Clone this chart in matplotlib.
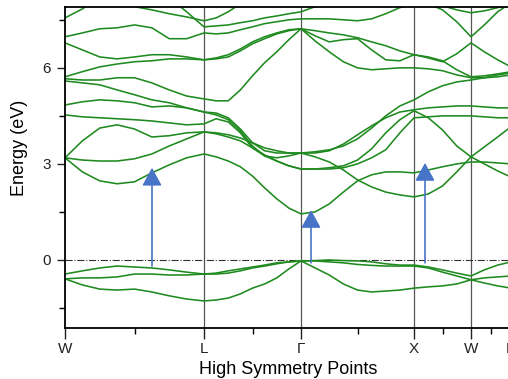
import numpy as np
import matplotlib
matplotlib.use("Agg")
import matplotlib.pyplot as plt
from matplotlib.ticker import MultipleLocator, FixedLocator

plt.rcParams['font.family'] = ['Liberation Sans', 'DejaVu Sans']

# high symmetry points along the path
sym_labels = ['W', 'L', 'Γ', 'X', 'W', 'K']
sym_k = [0.0, 1.39, 2.36, 3.49, 4.06, 4.46]
n_seg = [8, 8, 8, 4, 3]

# band energies (eV) sampled along the path (32 samples)
vb1 = [-0.44, -0.34, -0.25, -0.19, -0.22, -0.25, -0.31, -0.38, -0.44,
       -0.41, -0.34, -0.28, -0.22, -0.16, -0.09, -0.06, -0.03,
       -0.02, 0.0, -0.02, -0.03, -0.06, -0.12, -0.16, -0.16,
       -0.22, -0.31, -0.41, -0.5,
       -0.31, -0.16, -0.06]
vb2 = [-0.59, -0.56, -0.56, -0.53, -0.44, -0.44, -0.47, -0.47, -0.44,
       -0.44, -0.41, -0.34, -0.25, -0.19, -0.12, -0.06, -0.03,
       -0.03, -0.06, -0.09, -0.14, -0.17, -0.19, -0.19, -0.19,
       -0.25, -0.38, -0.5, -0.62,
       -0.56, -0.53, -0.5]
vb3 = [-0.59, -0.78, -0.91, -0.94, -0.91, -1.0, -1.12, -1.22, -1.28,
       -1.25, -1.19, -1.06, -0.88, -0.75, -0.56, -0.28, -0.03,
       -0.25, -0.47, -0.75, -0.94, -1.0, -0.97, -0.94, -0.88,
       -0.84, -0.81, -0.75, -0.62,
       -0.72, -0.81, -0.88]
cb1 = [3.19, 2.75, 2.47, 2.38, 2.44, 2.72, 2.97, 3.19, 3.31,
       3.22, 3.09, 2.91, 2.62, 2.25, 1.91, 1.62, 1.44,
       1.5, 1.75, 2.12, 2.47, 2.66, 2.75, 2.75, 2.72,
       2.81, 2.91, 3.0, 3.06,
       3.06, 3.03, 3.0]
cb2 = [3.19, 3.12, 3.09, 3.09, 3.16, 3.31, 3.56, 3.78, 4.0,
       3.97, 3.91, 3.81, 3.66, 3.5, 3.41, 3.34, 3.34,
       3.22, 3.06, 2.81, 2.5, 2.28, 2.12, 2.03, 1.97,
       2.06, 2.31, 2.75, 3.22,
       3.53, 3.84, 4.16]
cb3 = [3.19, 3.72, 4.12, 4.22, 4.09, 3.84, 3.88, 3.97, 4.0,
       3.94, 3.84, 3.72, 3.5, 3.28, 3.09, 2.94, 2.84,
       2.84, 2.84, 2.88, 3.0, 3.19, 3.44, 3.97, 4.44,
       4.47, 4.5, 4.5, 4.5,
       4.47, 4.44, 4.44]
cb4 = [4.53, 4.47, 4.44, 4.41, 4.38, 4.34, 4.28, 4.22, 4.25,
       4.41, 4.31, 3.97, 3.5, 3.25, 3.09, 2.94, 2.84,
       2.84, 2.88, 2.94, 3.12, 3.47, 3.97, 4.38, 4.66,
       4.44, 4.06, 3.56, 3.22,
       3.0, 2.78, 2.59]
cb5 = [4.84, 4.94, 5.0, 4.97, 4.91, 4.78, 4.81, 4.75, 4.62,
       4.53, 4.38, 4.03, 3.56, 3.25, 3.19, 3.25, 3.34,
       3.34, 3.41, 3.62, 3.91, 4.19, 4.44, 4.62, 4.69,
       4.75, 4.78, 4.81, 4.81,
       4.78, 4.75, 4.75]
cb6 = [5.59, 5.53, 5.47, 5.31, 5.16, 5.0, 4.91, 4.75, 4.62,
       4.59, 4.44, 4.09, 3.66, 3.41, 3.34, 3.34, 3.34,
       3.38, 3.44, 3.56, 3.78, 4.12, 4.5, 4.81, 5.0,
       5.25, 5.44, 5.56, 5.62,
       5.69, 5.78, 5.84]
cb7 = [5.66, 5.62, 5.62, 5.69, 5.69, 5.53, 5.31, 5.12, 5.03,
       4.97, 4.97, 5.31, 5.75, 6.16, 6.5, 6.88, 7.22,
       6.84, 6.5, 6.19, 6.0, 5.94, 5.97, 6.0, 6.0,
       5.97, 5.91, 5.78, 5.69,
       5.69, 5.72, 5.78]
cb8 = [5.72, 5.88, 6.03, 6.12, 6.19, 6.22, 6.28, 6.28, 6.25,
       6.31, 6.41, 6.59, 6.81, 6.97, 7.09, 7.19, 7.22,
       7.16, 7.09, 7.03, 6.94, 6.81, 6.69, 6.53, 6.41,
       6.31, 6.19, 6.44, 6.78,
       6.5, 6.25, 6.03]
cb9 = [6.78, 6.56, 6.34, 6.28, 6.34, 6.41, 6.41, 6.34, 6.25,
       6.28, 6.34, 6.53, 6.75, 6.91, 7.06, 7.16, 7.22,
       7.0, 6.81, 6.88, 6.91, 6.56, 6.25, 6.22, 6.41,
       6.34, 6.22, 5.94, 5.72,
       5.75, 5.81, 5.88]
cb10 = [6.97, 7.09, 7.22, 7.25, 7.34, 7.25, 6.91, 6.91, 7.09,
        7.06, 7.09, 7.19, 7.28, 7.38, 7.44, 7.5, 7.53,
        7.53, 7.53, 7.5, 7.47, 7.53, 7.69, 7.88, 8.0,
        8.0, 7.81, 7.44, 6.97,
        7.34, 7.75, 8.03]
cb11 = [10.0, 9.69, 9.38, 9.06, 8.75, 8.44, 8.19, 7.75, 7.28,
        7.31, 7.34, 7.41, 7.47, 7.56, 7.62, 7.69, 7.75,
        7.91, 8.06, 8.28, 8.44, 8.59, 8.75, 8.91, 9.06,
        9.06, 9.06, 9.06, 9.06,
        9.06, 9.06, 9.06]
cb12 = [9.38, 9.06, 8.59, 8.12, 7.91, 7.81, 7.69, 7.59, 7.47,
        7.56, 7.75, 8.0, 8.28, 8.5, 8.62, 8.69, 8.75,
        8.75, 8.75, 8.75, 8.75, 8.75, 8.75, 8.75, 8.75,
        8.75, 8.75, 8.75, 8.75,
        8.75, 8.75, 8.75]
cb13 = [7.56, 7.84, 8.22, 8.59, 8.9, 8.9, 8.9, 8.9, 8.9,
        8.9, 8.9, 8.9, 8.9, 8.9, 8.9, 8.9, 8.9,
        8.9, 8.9, 8.9, 8.9, 8.9, 8.9, 8.9, 8.9,
        8.44, 7.94, 7.81, 7.72,
        7.78, 7.88, 7.97]
bands = [vb1, vb2, vb3, cb1, cb2, cb3, cb4, cb5, cb6, cb7, cb8, cb9,
         cb10, cb11, cb12, cb13]

# transitions (k, start energy, end energy)
arrow_k = [0.87, 2.46, 3.60]
arrow_from = [-0.19, -0.09, -0.09]
arrow_to = [2.88, 1.56, 3.03]

k = []
for i, n in enumerate(n_seg):
    seg = np.linspace(sym_k[i], sym_k[i + 1], n + 1)
    k.extend(seg[:-1] if i < len(n_seg) - 1 else seg)
k = np.array(k)

fig = plt.figure(figsize=(5.08, 3.79), dpi=100)
ax = fig.add_axes([65 / 508, 51 / 379, 446 / 508, 321 / 379])

for b in bands:
    ax.plot(k, b, color='#1f8a1f', lw=1.15, solid_joinstyle='round')

for x in sym_k[1:-1]:
    ax.axvline(x, color='#555555', lw=0.9, zorder=1)
ax.axhline(0, color='#333333', lw=0.8, ls='-.', zorder=1)

for xk, e0, e1 in zip(arrow_k, arrow_from, arrow_to):
    ax.annotate('', xy=(xk, e1), xytext=(xk, e0),
                arrowprops=dict(arrowstyle='-|>,head_length=0.55,head_width=0.3',
                                color='#4874c8', lw=1.2, mutation_scale=20,
                                shrinkA=0, shrinkB=0), zorder=5)

ax.set_xlim(sym_k[0], sym_k[-1])
ax.set_ylim(-2.125, 7.9)
ax.set_xticks(sym_k)
ax.set_xticklabels(sym_labels)
mids = [(sym_k[i] + sym_k[i + 1]) / 2 for i in range(len(sym_k) - 1)]
ax.xaxis.set_minor_locator(FixedLocator(mids))
ax.set_yticks([0, 3, 6])
ax.yaxis.set_minor_locator(MultipleLocator(1.5))
ax.tick_params(axis='both', which='major', direction='out', labelsize=11,
               width=1.0, color='#222222', labelcolor='#222222')
ax.tick_params(axis='x', which='major', length=8, pad=2)
ax.tick_params(axis='y', which='major', length=6, pad=4)
ax.tick_params(axis='both', which='minor', direction='out', length=4, width=1.0)
for s in ['left', 'bottom', 'top']:
    ax.spines[s].set_linewidth(1.3)
ax.spines['right'].set_visible(False)

ax.set_xlabel('High Symmetry Points', fontsize=13, labelpad=4)
ax.set_ylabel('Energy (eV)', fontsize=13)
ax.yaxis.set_label_coords(-0.083, 0.56)

fig.savefig('out.png', dpi=100)
